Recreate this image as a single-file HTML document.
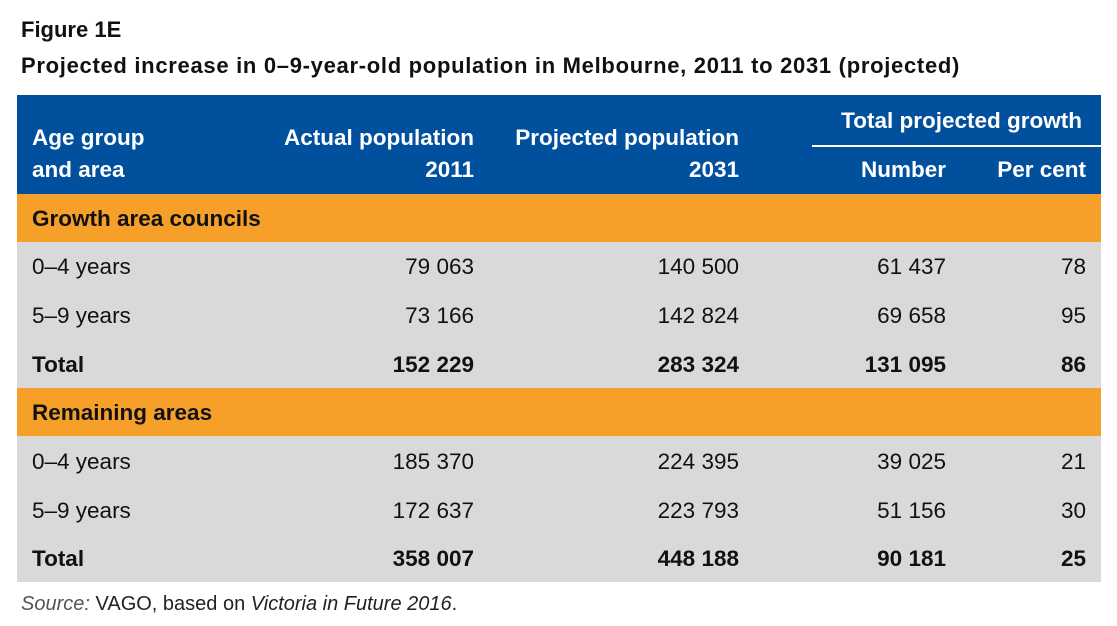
<!DOCTYPE html>
<html><head><meta charset="utf-8"><style>
body{margin:0;width:1117px;height:626px;background:#fff;font-family:"Liberation Sans",sans-serif;position:relative;overflow:hidden}
.a{position:absolute;white-space:nowrap}
.row{position:absolute;left:17px;width:1084px}
.cell{position:absolute;font-size:22.5px;color:#111;line-height:1}
</style></head><body>
<div class="a" style="left:21px;top:17px;font-size:22px;font-weight:bold;color:#111">Figure 1E</div>
<div class="a" style="left:21px;top:53px;font-size:22px;letter-spacing:0.7px;font-weight:bold;color:#111">Projected increase in 0–9-year-old population in Melbourne, 2011 to 2031 (projected)</div>
<div id="tbl">
<div class="row" style="top:95px;height:99px;background:#00509e"></div>
<div class="a" style="left:812px;top:145px;width:289px;height:2px;background:#fff"></div>
</div>
<div class="a" style="left:21px;top:593px;font-size:20px;color:#222"><i style="color:#555">Source:</i> VAGO, based on <i>Victoria in Future 2016</i>.</div>
<script>
const headers=[["Age group",32,129,"l"],["and area",32,161,"l"],["Actual population",474,129,"r"],["2011",474,161,"r"],["Projected population",739,129,"r"],["2031",739,161,"r"],["Total projected growth",1082,112,"r"],["Number",946,161,"r"],["Per cent",1086,161,"r"]];
const rows=[
 ["sec","Growth area councils"],
 ["0–4 years","79 063","140 500","61 437","78"],
 ["5–9 years","73 166","142 824","69 658","95"],
 ["Total","152 229","283 324","131 095","86"],
 ["sec","Remaining areas"],
 ["0–4 years","185 370","224 395","39 025","21"],
 ["5–9 years","172 637","223 793","51 156","30"],
 ["Total","358 007","448 188","90 181","25"]];
const colRight=[474,739,946,1086];
const t=document.getElementById('tbl');
function mk(txt,x,y,align,color,bold){const d=document.createElement('div');d.className='cell';d.textContent=txt;d.style.top=y+'px';d.style.color=color;if(bold)d.style.fontWeight='bold';if(align==='r'){d.style.right=(1117-x)+'px';}else d.style.left=x+'px';t.appendChild(d);return d;}
headers.forEach(h=>{const d=mk(h[0],h[1],h[2]-2,h[3],'#fff',true);

});
const tops=[194,242,290,340,388,436,486,534];
rows.forEach((r,i)=>{const top=tops[i],h=(i<7?tops[i+1]:582)-top;
const bg=document.createElement('div');bg.className='row';bg.style.top=top+'px';bg.style.height=h+'px';bg.style.background=r[0]==='sec'?'#f6a02a':'#d9d9d9';


t.insertBefore(bg,t.firstChild);
const y=top+(h-22)/2+1;
if(r[0]==='sec'){const d=mk(r[1],32,y,'l','#111',true);

return;}
const bold=r[0]==='Total';
const l=mk(r[0],32,y,'l','#111',bold);


for(let c=1;c<5;c++){const d=mk(r[c],colRight[c-1],y,'r','#111',bold);

}
});
</script>
</body></html>
